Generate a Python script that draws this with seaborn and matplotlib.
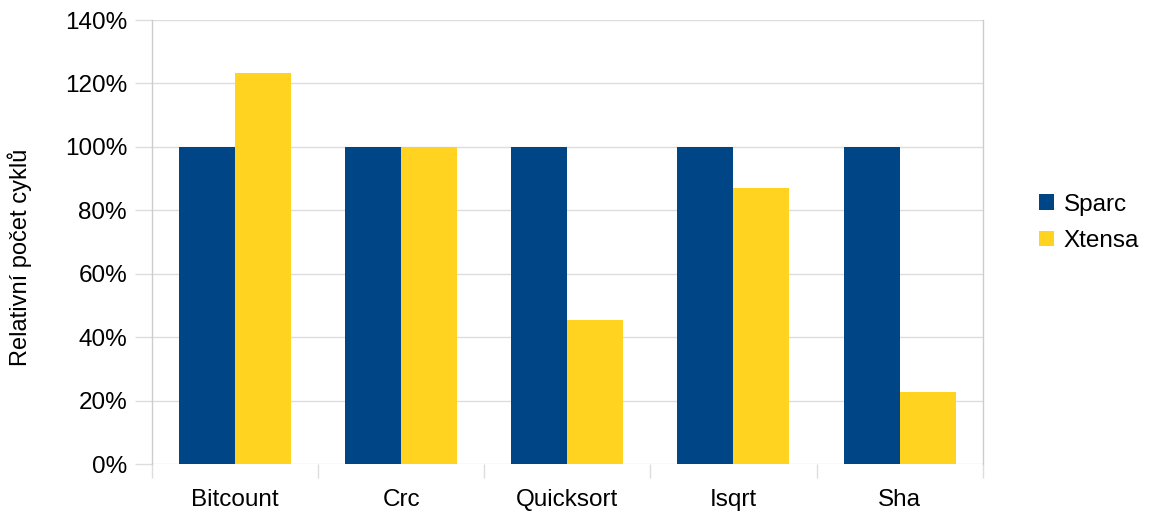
import numpy as np
import pandas as pd
import matplotlib
matplotlib.use('Agg')
import matplotlib.pyplot as plt
from matplotlib.ticker import PercentFormatter
import seaborn as sns

benchmarks = ['Bitcount', 'Crc', 'Quicksort', 'Isqrt', 'Sha']
sparc = [100, 100, 100, 100, 100]
xtensa = [123.3, 100, 45.4, 87.0, 22.7]
series = ['Sparc', 'Xtensa']
colors = ['#004586', '#ffd320']

df = pd.DataFrame({
    'benchmark': benchmarks * 2,
    'cpu': ['Sparc'] * len(benchmarks) + ['Xtensa'] * len(benchmarks),
    'value': sparc + xtensa,
})

sns.set_style('white')
plt.rcParams['font.family'] = ['Liberation Sans', 'DejaVu Sans']
plt.rcParams['text.color'] = 'black'
plt.rcParams['axes.labelcolor'] = 'black'

fig = plt.figure(figsize=(11.52, 5.13), dpi=100)
ax = fig.add_axes([0.132, 0.0955, 0.721, 0.8655])

sns.barplot(data=df, x='benchmark', y='value', hue='cpu', hue_order=series,
            palette=colors, width=0.674, gap=0, saturation=1,
            edgecolor='none', linewidth=0, ax=ax)

ax.set_xlim(-0.5, 4.5)
ax.set_ylim(0, 140)
ax.set_yticks(np.arange(0, 141, 20))
ax.yaxis.set_major_formatter(PercentFormatter(decimals=0))
ax.grid(axis='y', color='#dddddd', linewidth=1)
ax.set_axisbelow(True)

# category boundary tick marks below the axis
ax.set_xticks(np.arange(-0.5, 5, 1), minor=True)
ax.tick_params(axis='x', which='major', bottom=True, length=0, labelsize=17.5,
               pad=18, labelcolor='black')
ax.tick_params(axis='x', which='minor', bottom=True, length=10, width=1,
               color='#dddddd', direction='out')
ax.tick_params(axis='y', left=True, length=12, width=1, color='#dddddd',
               labelsize=17.5, pad=6, labelcolor='black')

for s in ['top', 'bottom']:
    ax.spines[s].set_visible(False)
for s in ['left', 'right']:
    ax.spines[s].set_color('#cccccc')
    ax.spines[s].set_linewidth(1)

ax.set_xlabel('')
ax.set_ylabel('Relativní počet cyklů', fontsize=17)
ax.yaxis.set_label_coords(-0.145, 0.465)

ax.legend(title=None, loc='center left', bbox_to_anchor=(1.042, 0.543), frameon=False,
          fontsize=17.5, handlelength=0.6, handleheight=0.6, handletextpad=0.4,
          labelspacing=0.6)

fig.savefig('out.png', dpi=100)
